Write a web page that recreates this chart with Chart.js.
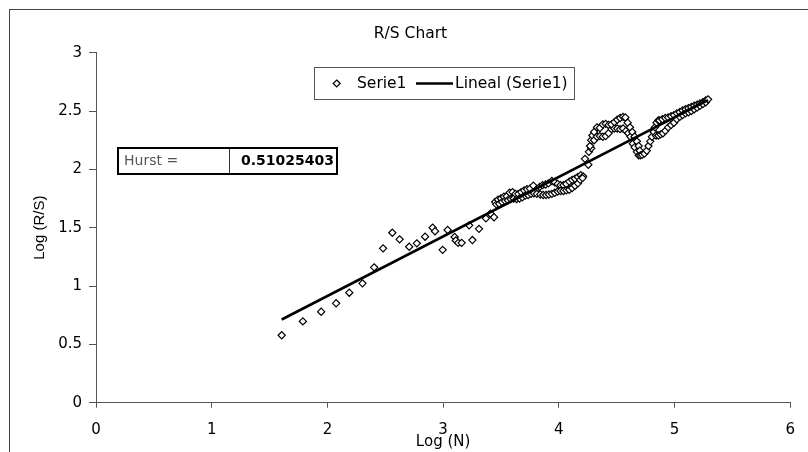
<!DOCTYPE html>
<html><head><meta charset="utf-8">
<script src="https://cdn.jsdelivr.net/npm/chart.js@4.4.1/dist/chart.umd.min.js"></script>
<style>html,body{margin:0;padding:0;background:#fff}#wrap{width:808px;height:452px;position:relative}canvas{display:block}</style>
</head><body><div id="wrap"><canvas id="c" width="808" height="452"></canvas></div>
<script>
const chartTitle = "R/S Chart";
const xAxisTitle = "Log (N)";
const yAxisTitle = "Log (R/S)";
const seriesName = "Serie1";
const trendName = "Lineal (Serie1)";
const hurstLabel = "Hurst =";
const hurstValue = "0.51025403";
const xTicks = [0, 1, 2, 3, 4, 5, 6];
const yTicks = [0, 0.5, 1, 1.5, 2, 2.5, 3];
const xTickLabels = ["0", "1", "2", "3", "4", "5", "6"];
const yTickLabels = ["0", "0.5", "1", "1.5", "2", "2.5", "3"];

const serieX = [
1.605,1.788,1.946,2.075,2.189,2.303,2.404,2.481,2.561,2.624,2.707,2.773,2.844,2.91,2.93,2.996,3.039,3.10,3.11,3.13,3.16,3.225,3.253,3.31,3.37,3.41,3.44,
3.45,3.46,3.475,3.485,3.50,3.51,3.525,3.535,3.55,3.56,3.575,3.585,3.60,3.61,3.625,3.635,3.65,3.66,3.675,3.685,3.70,3.71,3.725,3.735,3.75,3.76,3.78,3.785,
3.81,3.81,3.835,3.84,3.86,3.865,3.885,3.89,3.91,3.915,3.94,3.94,3.965,3.965,3.99,3.99,4.015,4.015,4.04,4.04,4.065,4.065,4.09,4.09,4.115,4.115,4.14,4.14,4.165,4.165,4.19,4.185,4.21,4.205,4.226,4.255,
4.26,4.28,4.27,4.28,4.29,4.305,4.305,4.33,4.33,4.355,4.355,4.38,4.38,4.405,4.405,4.43,4.43,4.455,4.455,4.48,4.48,4.505,4.505,4.53,4.53,4.555,4.555,4.58,4.575,4.60,4.595,4.62,4.615,4.64,4.635,4.655,4.655,4.675,4.675,4.69,4.69,4.70,
4.705,4.72,4.74,4.76,4.775,4.79,4.805,4.82,4.83,4.84,4.845,4.86,4.86,
4.87,4.88,4.895,4.90,4.92,4.92,4.945,4.945,4.97,4.97,4.995,4.995,5.02,5.02,5.045,5.045,5.07,5.07,5.095,5.095,5.12,5.12,5.145,5.145,5.17,5.17,5.195,5.195,5.22,5.22,5.245,5.245,5.27,5.27,5.29
];
const serieY = [
0.578,0.697,0.78,0.852,0.943,1.023,1.16,1.323,1.457,1.40,1.337,1.366,1.423,1.50,1.47,1.31,1.48,1.42,1.39,1.37,1.37,1.52,1.394,1.49,1.58,1.62,1.59,
1.72,1.70,1.74,1.705,1.75,1.72,1.765,1.73,1.77,1.735,1.80,1.745,1.805,1.75,1.79,1.745,1.79,1.75,1.805,1.76,1.82,1.775,1.83,1.78,1.835,1.79,1.86,1.795,
1.83,1.79,1.85,1.785,1.865,1.78,1.87,1.78,1.88,1.785,1.90,1.79,1.89,1.80,1.875,1.81,1.865,1.815,1.865,1.815,1.875,1.82,1.895,1.825,1.91,1.84,1.92,1.86,1.935,1.88,1.95,1.91,1.94,1.925,2.09,2.04,
2.15,2.18,2.20,2.25,2.29,2.25,2.32,2.28,2.36,2.285,2.355,2.28,2.385,2.285,2.39,2.31,2.38,2.345,2.385,2.35,2.405,2.35,2.425,2.345,2.44,2.35,2.45,2.33,2.445,2.31,2.40,2.28,2.36,2.22,2.32,2.19,2.28,2.15,2.24,2.12,2.20,2.16,
2.12,2.125,2.135,2.16,2.20,2.24,2.28,2.32,2.36,2.29,2.40,2.29,2.42,
2.42,2.30,2.43,2.31,2.44,2.33,2.445,2.36,2.455,2.38,2.465,2.40,2.48,2.43,2.49,2.45,2.505,2.465,2.515,2.48,2.525,2.49,2.535,2.50,2.545,2.515,2.555,2.53,2.565,2.545,2.575,2.56,2.59,2.575,2.60
];
const trendX = [1.605, 5.29];
const trendY = [0.713, 2.593];

const FONT = 'DejaVu Sans';

const decor = {
  id: 'decor',
  beforeDraw(chart) {
    const ctx = chart.ctx;
    ctx.save();
    ctx.fillStyle = '#fff';
    ctx.fillRect(0, 0, chart.width, chart.height);
    ctx.strokeStyle = '#444';
    ctx.lineWidth = 1;
    ctx.strokeRect(9.5, 9.5, 840, 480);
    ctx.restore();
  },
  afterDraw(chart) {
    const ctx = chart.ctx;
    ctx.save();
    // legend box
    ctx.fillStyle = '#fff';
    ctx.fillRect(314.5, 67.5, 260, 32);
    ctx.strokeStyle = '#555';
    ctx.lineWidth = 1;
    ctx.strokeRect(314.5, 67.5, 260, 32);
    const ly = 83.5;
    ctx.beginPath();
    ctx.moveTo(336.7, ly - 3.5); ctx.lineTo(340.2, ly); ctx.lineTo(336.7, ly + 3.5); ctx.lineTo(333.2, ly); ctx.closePath();
    ctx.fillStyle = '#fff'; ctx.fill();
    ctx.strokeStyle = '#000'; ctx.lineWidth = 1.2; ctx.stroke();
    ctx.fillStyle = '#000';
    ctx.font = '15.5px "' + FONT + '"';
    ctx.textBaseline = 'middle';
    ctx.textAlign = 'left';
    ctx.fillText(chart.data.datasets[1].label, 357, ly);
    ctx.beginPath();
    ctx.moveTo(416, ly); ctx.lineTo(453, ly);
    ctx.lineWidth = 2.5; ctx.strokeStyle = '#000'; ctx.stroke();
    ctx.fillText(chart.data.datasets[0].label, 455, ly);
    // Hurst box
    ctx.fillStyle = '#fff';
    ctx.fillRect(118, 148, 219, 26);
    ctx.lineWidth = 2; ctx.strokeStyle = '#000';
    ctx.strokeRect(118, 148, 219, 26);
    ctx.lineWidth = 1; ctx.strokeStyle = '#333';
    ctx.beginPath(); ctx.moveTo(229.5, 149); ctx.lineTo(229.5, 173); ctx.stroke();
    ctx.fillStyle = '#555';
    ctx.font = '14px "' + FONT + '"';
    ctx.fillText(hurstLabel, 124, 161.5);
    ctx.fillStyle = '#000';
    ctx.font = 'bold 14px "' + FONT + '"';
    ctx.textAlign = 'right';
    ctx.fillText(hurstValue, 334, 161.5);
    ctx.restore();
  }
};

new Chart(document.getElementById('c'), {
  type: 'scatter',
  data: {
    datasets: [
      {
        type: 'scatter',
        label: trendName,
        data: trendX.map((x, i) => ({ x: x, y: trendY[i] })),
        showLine: true,
        borderColor: '#000',
        borderWidth: 2.6,
        pointRadius: 0,
        fill: false,
        order: 0
      },
      {
        type: 'scatter',
        label: seriesName,
        data: serieX.map((x, i) => ({ x: x, y: serieY[i] })),
        pointStyle: 'rectRot',
        pointRadius: 3.6,
        pointBorderWidth: 1.2,
        borderColor: '#000',
        backgroundColor: '#fff',
        showLine: false,
        order: 1
      }
    ]
  },
  options: {
    responsive: false,
    animation: false,
    devicePixelRatio: 1,
    events: [],
    layout: { padding: { left: 26, right: 13, top: 0, bottom: 0 } },
    plugins: {
      legend: { display: false },
      tooltip: { enabled: false },
      title: {
        display: true,
        text: chartTitle,
        color: '#000',
        font: { family: FONT, size: 15.5, weight: 'normal' },
        padding: { top: 24.5, bottom: 9.6 }
      }
    },
    scales: {
      x: {
        type: 'linear',
        position: 'bottom',
        min: 0, max: 6,
        afterBuildTicks: s => { s.ticks = xTicks.map(v => ({ value: v })); },
        afterFit: s => { s.height = 49.3; },
        grid: { display: true, drawOnChartArea: false, drawTicks: true, tickLength: 5, color: '#555' },
        border: { display: true, color: '#555', width: 1 },
        ticks: { color: '#000', font: { family: FONT, size: 15 }, padding: 13, maxRotation: 0, autoSkip: false,
                 callback: (v) => xTickLabels[xTicks.indexOf(v)] },
        title: { display: true, text: xAxisTitle, color: '#000', font: { family: FONT, size: 15 }, padding: { top: 0, bottom: 1 } }
      },
      y: {
        type: 'linear',
        position: 'left',
        min: 0, max: 3,
        afterBuildTicks: s => { s.ticks = yTicks.map(v => ({ value: v })); },
        afterFit: s => { s.width = 70; },
        grid: { display: true, drawOnChartArea: false, drawTicks: true, tickLength: 7, color: '#555' },
        border: { display: true, color: '#555', width: 1 },
        ticks: { color: '#000', font: { family: FONT, size: 15 }, padding: 7, autoSkip: false,
                 callback: (v) => yTickLabels[yTicks.indexOf(v)] },
        title: { display: true, text: yAxisTitle, color: '#000', font: { family: 'Liberation Sans', size: 15 }, padding: { top: 5, bottom: 0 } }
      }
    }
  },
  plugins: [decor]
});
</script>
</body></html>
